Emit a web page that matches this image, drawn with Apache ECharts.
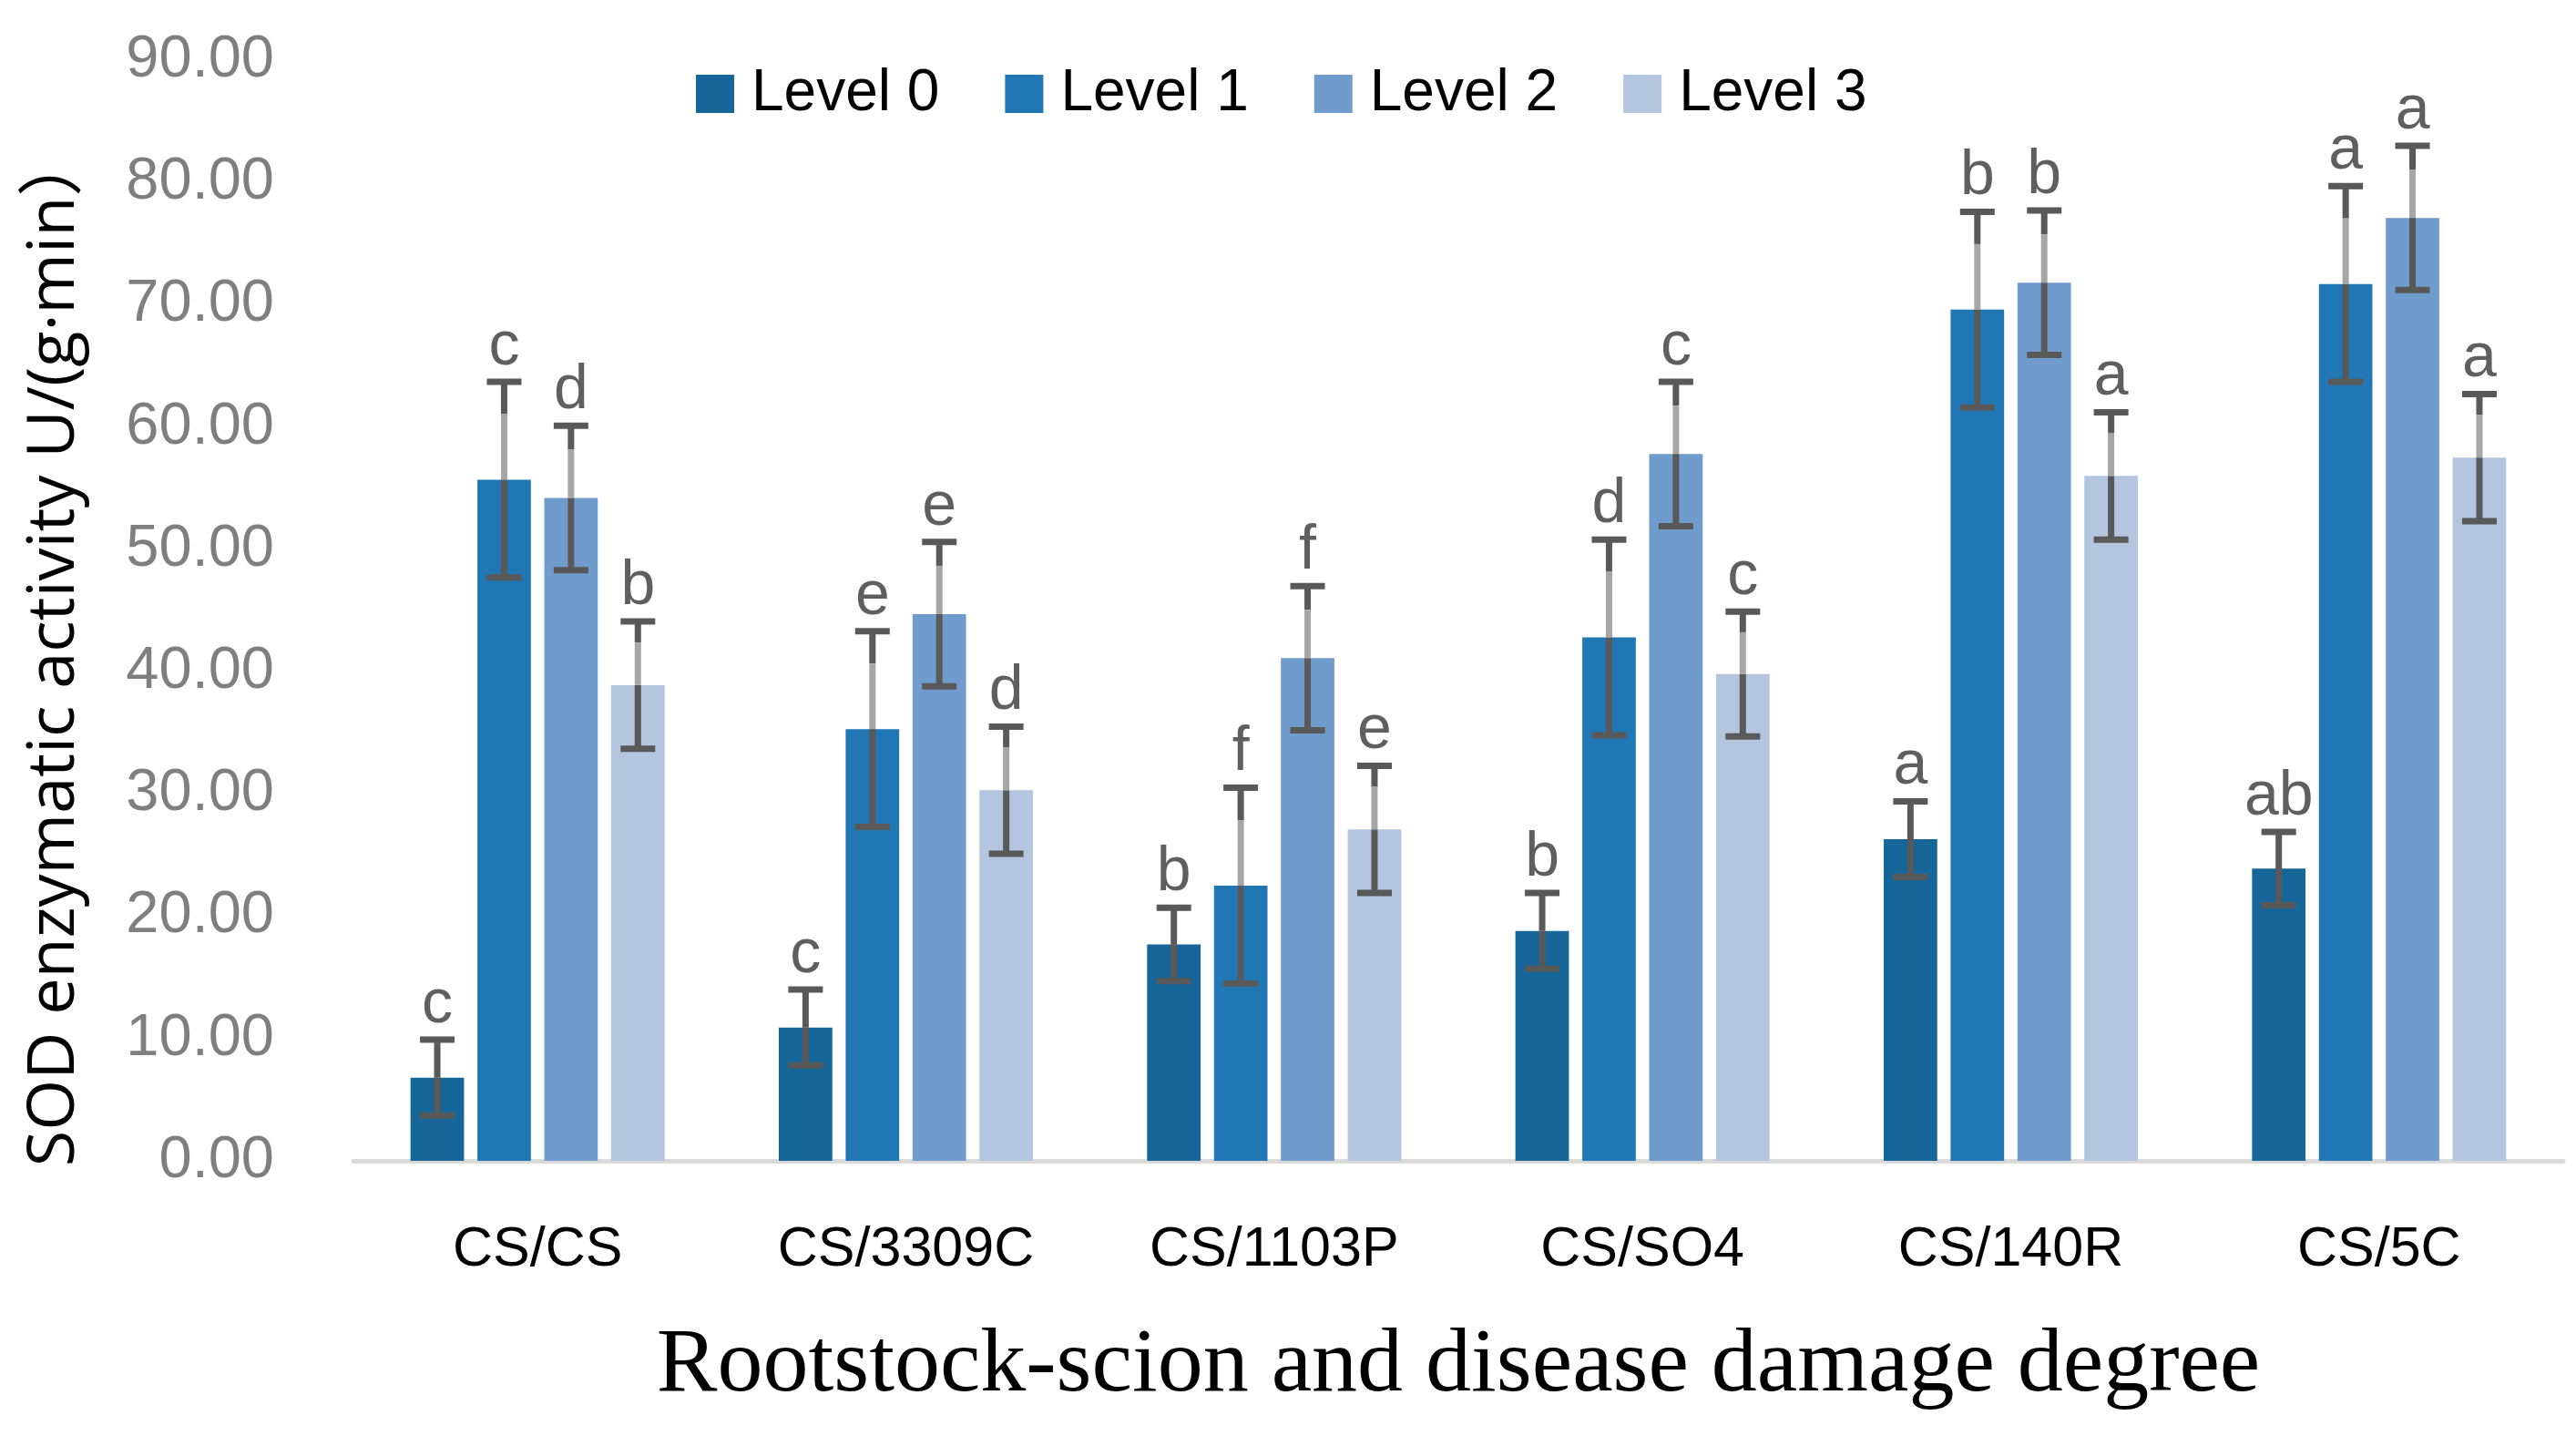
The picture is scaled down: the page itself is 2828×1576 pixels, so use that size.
<!DOCTYPE html>
<html>
<head>
<meta charset="utf-8">
<script src="https://cdn.jsdelivr.net/npm/echarts@6/dist/echarts.min.js"></script>
<style>html,body{margin:0;padding:0;background:#fff;}#c{width:2828px;height:1576px;}</style>
</head>
<body>
<div id="c"></div>
<script>
const categories = ['CS/CS', 'CS/3309C', 'CS/1103P', 'CS/SO4', 'CS/140R', 'CS/5C'];
const levelNames = ['Level 0', 'Level 1', 'Level 2', 'Level 3'];
const level0 = [6.8, 10.9, 17.7, 18.8, 26.3, 23.9];
const level1 = [55.7, 35.3, 22.5, 42.8, 69.6, 71.7];
const level2 = [54.2, 44.7, 41.1, 57.8, 71.8, 77.1];
const level3 = [38.9, 30.3, 27.1, 39.8, 56.0, 57.5];
const err0 = [3.1, 3.1, 3.0, 3.1, 3.1, 3.0];
const err1 = [8.0, 8.0, 8.0, 8.0, 8.0, 8.0];
const err2 = [5.9, 5.9, 5.9, 5.9, 5.9, 5.9];
const err3 = [5.2, 5.2, 5.2, 5.1, 5.2, 5.2];
const letters0 = ['c', 'c', 'b', 'b', 'a', 'ab'];
const letters1 = ['c', 'e', 'f', 'd', 'b', 'a'];
const letters2 = ['d', 'e', 'f', 'c', 'b', 'a'];
const letters3 = ['b', 'd', 'e', 'c', 'a', 'a'];
const yTicks = [0, 10, 20, 30, 40, 50, 60, 70, 80, 90];

const values = [level0, level1, level2, level3];
const errs = [err0, err1, err2, err3];
const letters = [letters0, letters1, letters2, letters3];
const colors = ['#166699', '#2177b4', '#6f9ccc', '#b3c5df'];
const CAT_GAP = 0.31, BAR_GAP = 0.25, N = 4;
const DARK = '#595959', LIGHT = '#a6a6a6';

function makeRender(level) {
  return function (params, api) {
    const i = api.value(0), v = api.value(1), e = api.value(2);
    const band = api.size([1, 0])[0];
    const avail = band * (1 - CAT_GAP);
    const bw = avail / (N + (N - 1) * BAR_GAP);
    const x = api.coord([i, v])[0] - avail / 2 + level * bw * (1 + BAR_GAP) + bw / 2;
    const yV = api.coord([i, v])[1];
    const yT = api.coord([i, v + e])[1];
    const yB = api.coord([i, v - e])[1];
    const capW = 38, lw = 7;
    const ch = [];
    ch.push({type: 'line', shape: {x1: x, y1: yV, x2: x, y2: yB}, style: {stroke: DARK, lineWidth: lw}});
    if (level === 0) {
      ch.push({type: 'line', shape: {x1: x, y1: yT, x2: x, y2: yV}, style: {stroke: DARK, lineWidth: lw}});
    } else {
      const yMid = yT + 0.33 * (yV - yT);
      ch.push({type: 'line', shape: {x1: x, y1: yT, x2: x, y2: yMid}, style: {stroke: DARK, lineWidth: lw}});
      ch.push({type: 'line', shape: {x1: x, y1: yMid, x2: x, y2: yV}, style: {stroke: LIGHT, lineWidth: lw}});
    }
    ch.push({type: 'line', shape: {x1: x - capW / 2, y1: yT, x2: x + capW / 2, y2: yT}, style: {stroke: DARK, lineWidth: lw}});
    ch.push({type: 'line', shape: {x1: x - capW / 2, y1: yB, x2: x + capW / 2, y2: yB}, style: {stroke: DARK, lineWidth: lw}});
    ch.push({type: 'text', style: {text: letters[level][params.dataIndex], x: x, y: yT - 4, textAlign: 'center', textVerticalAlign: 'bottom', fill: '#5f5f5f', font: '68px "Liberation Sans", Arial, sans-serif'}});
    return {type: 'group', children: ch};
  };
}

const series = [];
for (let l = 0; l < 4; l++) {
  series.push({
    name: levelNames[l], type: 'bar', data: values[l],
    barCategoryGap: (CAT_GAP * 100) + '%', barGap: (BAR_GAP * 100) + '%',
    itemStyle: {color: colors[l]}, z: 2
  });
}
for (let l = 0; l < 4; l++) {
  series.push({
    type: 'custom', renderItem: makeRender(l), z: 5, silent: true,
    data: values[l].map((v, i) => [i, v, errs[l][i]]),
    encode: {x: 0, y: 1}
  });
}

const chart = echarts.init(document.getElementById('c'), null, {renderer: 'canvas'});
chart.setOption({
  animation: false,
  backgroundColor: '#ffffff',
  grid: {left: 388, right: 14, top: 66, bottom: 302, containLabel: false},
  legend: {
    data: levelNames, left: 759, top: 66, itemWidth: 42, itemHeight: 42, itemGap: 72,
    icon: 'rect',
    textStyle: {color: '#000', fontSize: 64, fontFamily: '"Liberation Sans", Arial, sans-serif', padding: [0, 0, 0, 14]}
  },
  xAxis: {
    type: 'category', data: categories,
    axisLine: {lineStyle: {color: '#d9d9d9', width: 5}},
    axisTick: {show: false},
    axisLabel: {color: '#000', fontSize: 61, fontFamily: '"Liberation Sans", Arial, sans-serif', margin: 68},
    name: 'Rootstock-scion and disease damage degree', nameLocation: 'middle', nameGap: 176,
    nameTextStyle: {color: '#000', fontSize: 100, fontFamily: '"Liberation Serif", "Times New Roman", serif'}
  },
  yAxis: {
    type: 'value', min: yTicks[0], max: yTicks[yTicks.length - 1], interval: yTicks[1] - yTicks[0],
    axisLine: {show: false}, axisTick: {show: false}, splitLine: {show: false},
    axisLabel: {color: '#7f7f7f', fontSize: 65, fontFamily: '"Liberation Sans", Arial, sans-serif', margin: 87,
      formatter: v => v.toFixed(2)}
  },
  graphic: [{
    type: 'text', x: 60, y: 712, rotation: Math.PI / 2,
    style: {text: 'SOD enzymatic activity U/(g·min）', textAlign: 'center', textVerticalAlign: 'middle',
      fill: '#000', font: '72px "Open Sans", "Noto Sans CJK SC", sans-serif'}
  }],
  series: series
});
</script>
</body>
</html>
